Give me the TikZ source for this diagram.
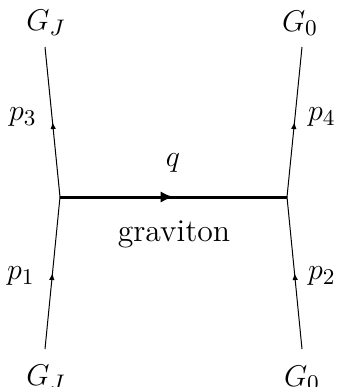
\documentclass[tikz,border=0pt]{standalone}
\usetikzlibrary{arrows.meta,decorations.markings}
\begin{document}
\begin{tikzpicture}[x=0.4pt,y=-0.4pt,
  fermion/.style={thin,postaction={decorate},
    decoration={markings,mark=at position 0.5 with {\arrow{Latex[length=2.8pt,width=2.2pt]}}}},
  grav/.style={line width=1.2pt,postaction={decorate},
    decoration={markings,mark=at position 0.5 with {\arrow{Latex[length=5.2pt,width=4.6pt]}}}},
  lbl/.style={inner sep=0pt,font=\fontsize{12.7pt}{15pt}\selectfont}
]
  \useasboundingbox (0,0) rectangle (337,387);
  % vertices and external ends
  \coordinate (vl) at (60,197);
  \coordinate (vr) at (287,197);
  \coordinate (tl) at (45,47);
  \coordinate (bl) at (45,349);
  \coordinate (tr) at (302,47);
  \coordinate (br) at (302,349);
  % particle names
  \node[lbl] (gjt) at (46,23)  {$G_J$};
  \node[lbl] (g0t) at (300,23) {$G_0$};
  \node[lbl] (gjb) at (46,378) {$G_J$};
  \node[lbl] (g0b) at (302,378) {$G_0$};
  % momenta
  \node[lbl] (p3) at (23,117)  {$p_3$};
  \node[lbl] (p4) at (322,117) {$p_4$};
  \node[lbl] (p1) at (21,276)  {$p_1$};
  \node[lbl] (p2) at (322,276) {$p_2$};
  \node[lbl] (q)  at (173,163) {$q$};
  \node[lbl] (gl) at (174,234) {graviton};
  % lines
  \draw[fermion] (bl) -- (vl);
  \draw[fermion] (vl) -- (tl);
  \draw[fermion] (br) -- (vr);
  \draw[fermion] (vr) -- (tr);
  \draw[grav] (vl) -- (vr);
\end{tikzpicture}
\end{document}
